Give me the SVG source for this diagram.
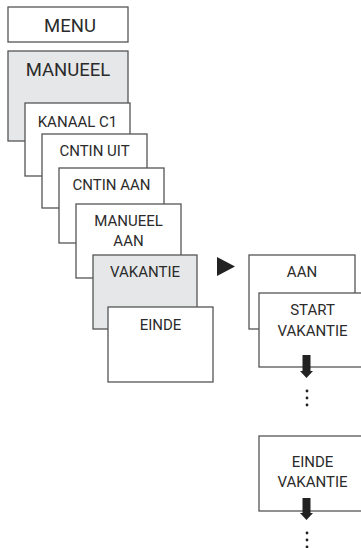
<svg xmlns="http://www.w3.org/2000/svg" width="361" height="548" viewBox="0 0 361 548">
<style>
.b{fill:#fff;stroke:#555;stroke-width:1.3}
.g{fill:#e6e7e8;stroke:#555;stroke-width:1.3}
text{font-family:Roboto,"Liberation Sans",Arial,sans-serif;fill:#2b2b2b;text-anchor:middle;font-size:15px}
.L{font-size:18.5px}
.ar{fill:#222}
</style>
<rect width="361" height="548" fill="#fff"/>
<g id="menu"><rect class="b" x="8" y="7" width="120" height="35"/><text class="L" x="70" y="32">MENU</text></g>
<g id="manueel"><rect class="g" x="8" y="51" width="120" height="90"/><text class="L" x="68" y="76">MANUEEL</text></g>
<g id="kanaal"><rect class="b" x="25" y="103" width="105" height="73"/><text x="77.5" y="127">KANAAL C1</text></g>
<g id="cntin-uit"><rect class="b" x="42" y="134" width="105" height="74"/><text x="94.5" y="156">CNTIN UIT</text></g>
<g id="cntin-aan"><rect class="b" x="59" y="168" width="105" height="75"/><text x="111.5" y="190">CNTIN AAN</text></g>
<g id="manueel-aan"><rect class="b" x="76" y="204" width="105" height="74"/><text x="128.5" y="226">MANUEEL</text><text x="128.5" y="246">AAN</text></g>
<g id="vakantie"><rect class="g" x="93" y="255" width="104" height="74"/><text x="145" y="277">VAKANTIE</text></g>
<g id="einde"><rect class="b" x="108" y="307" width="105" height="75"/><text x="160.5" y="330">EINDE</text></g>
<g id="aan"><rect class="b" x="249" y="255" width="106" height="74"/><text x="302" y="277">AAN</text></g>
<g id="start-vakantie"><rect class="b" x="259" y="293" width="106" height="74"/><text x="312.5" y="315">START</text><text x="312.5" y="336">VAKANTIE</text></g>
<g id="einde-vakantie"><rect class="b" x="259" y="436" width="106" height="75"/><text x="312.5" y="467">EINDE</text><text x="312.5" y="487">VAKANTIE</text></g>
<g id="connectors">
<polygon class="ar" points="217,257 235,266.5 217,276"/>
<polygon class="ar" points="302.5,355 310.5,355 310.5,371 313,371 306.5,378 300,371 302.5,371"/>
<circle class="ar" cx="307" cy="391" r="1.4"/><circle class="ar" cx="307" cy="398" r="1.4"/><circle class="ar" cx="307" cy="405" r="1.4"/>
<polygon class="ar" points="302.5,498 310.5,498 310.5,513 313,513 306.5,520 300,513 302.5,513"/>
<circle class="ar" cx="307" cy="533" r="1.4"/><circle class="ar" cx="307" cy="540" r="1.4"/><circle class="ar" cx="307" cy="547" r="1.4"/>
</g>
</svg>
